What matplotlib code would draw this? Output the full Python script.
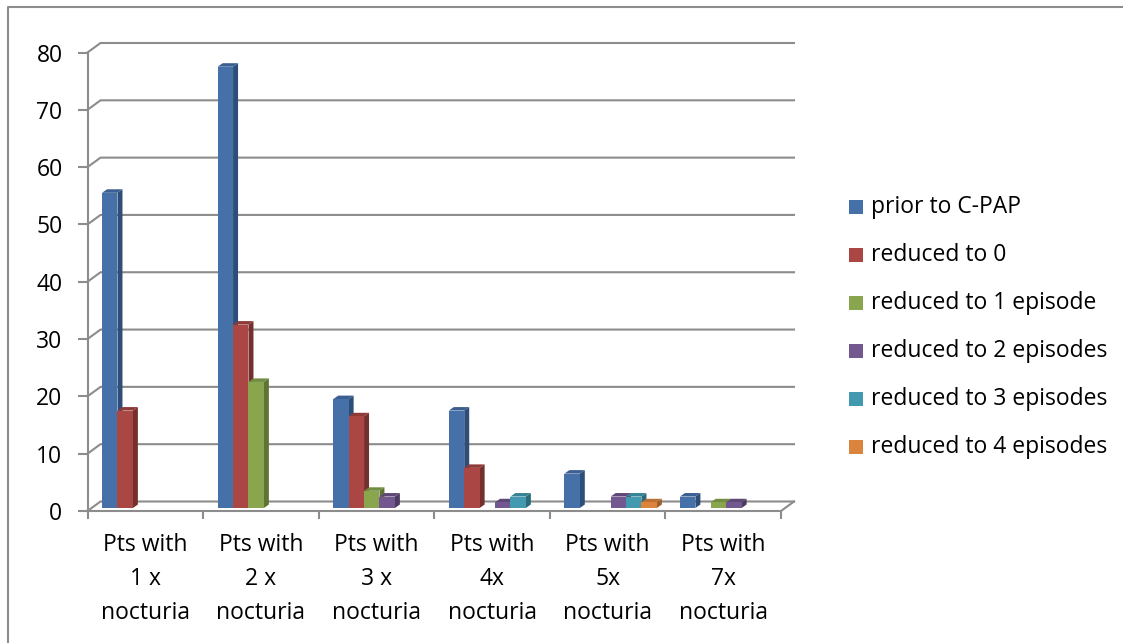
import matplotlib
matplotlib.use("Agg")
import matplotlib.pyplot as plt
from matplotlib.patches import Polygon, Rectangle
from matplotlib.lines import Line2D

plt.rcParams['font.family'] = ['Open Sans', 'DejaVu Sans']

categories = ["Pts with\n1 x\nnocturia", "Pts with\n2 x\nnocturia", "Pts with\n3 x\nnocturia",
              "Pts with\n4x\nnocturia", "Pts with\n5x\nnocturia", "Pts with\n7x\nnocturia"]
series_names = ["prior to C-PAP", "reduced to 0", "reduced to 1 episode",
                "reduced to 2 episodes", "reduced to 3 episodes", "reduced to 4 episodes"]
prior_cpap = [55, 77, 19, 17, 6, 2]
reduced_0 = [17, 32, 16, 7, 0, 0]
reduced_1 = [0, 22, 3, 0, 0, 1]
reduced_2 = [0, 0, 2, 1, 2, 1]
reduced_3 = [0, 0, 0, 2, 2, 0]
reduced_4 = [0, 0, 0, 0, 1, 0]
series_values = [prior_cpap, reduced_0, reduced_1, reduced_2, reduced_3, reduced_4]

front_colors = ["#4671A8", "#AA4643", "#89A54E", "#73578F", "#4399B0", "#DB843D"]
side_colors = ["#2D4E79", "#75302D", "#5F7434", "#4D3A62", "#2C6A7B", "#9D5E2A"]
top_colors = ["#3A5F90", "#8E3A37", "#728C41", "#5F4878", "#378396", "#BC7133"]
yticks = list(range(0, 81, 10))

FS = 16.5
W, H = 1123, 643
fig = plt.figure(figsize=(W / 100, H / 100), dpi=100)

# axes frame in pixels: front plane x 87.5..781, y 511 (0) .. 52.5 (80)
x_left, x_right, y_zero, y_top = 87.5, 781.0, 511.0, 52.5
ax = fig.add_axes([x_left / W, (H - y_zero) / H, (x_right - x_left) / W, (y_zero - y_top) / H])
ncat = len(categories)
ax.set_xlim(0, ncat)
ax.set_ylim(0, 80)
ax.patch.set_visible(False)

px_x = (x_right - x_left) / ncat          # pixels per category
px_y = (y_zero - y_top) / 80.0            # pixels per value unit

# depth of the back wall
DX, DY = 13 / px_x, 9.5 / px_y
grid_c = "#8C8C8C"
grid_lw = 1.5
for v in yticks:
    ax.add_line(Line2D([0, DX, ncat + DX], [v, v + DY, v + DY], color=grid_c, lw=grid_lw,
                       clip_on=False, zorder=1))
ax.add_line(Line2D([ncat, ncat + DX], [0, DY], color=grid_c, lw=grid_lw, clip_on=False, zorder=1))

for s in ["top", "right"]:
    ax.spines[s].set_visible(False)
for s in ["left", "bottom"]:
    ax.spines[s].set_color(grid_c)
    ax.spines[s].set_linewidth(grid_lw)
    ax.spines[s].set_zorder(1)

ax.set_yticks(yticks)
ax.set_yticklabels([str(v) for v in yticks])
ax.tick_params(axis="y", length=7, width=grid_lw, color=grid_c, pad=11, labelsize=FS)
ax.set_xticks(range(ncat + 1))
ax.set_xticklabels([])
ax.tick_params(axis="x", which="major", length=6, width=grid_lw, color=grid_c)
ax.set_xticks([i + 0.5 for i in range(ncat)], minor=True)
ax.set_xticklabels(categories, minor=True, linespacing=1.55)
ax.tick_params(axis="x", which="minor", length=0, pad=16, labelsize=FS)

# bars with a small 3D extrusion
nser = len(series_values)
gap = 0.2
bw = (1 - gap) / nser
bx, by = 3 / px_x, 3 / px_y          # bar placement inside the floor depth
sdx, sdy = 5 / px_x, 3.5 / px_y      # bar depth
for j, vals in enumerate(series_values):
    xs = [i + gap / 2 + j * bw + bx for i in range(ncat)]
    for i, v in enumerate(vals):
        if v <= 0:
            continue
        x0 = xs[i]
        ax.bar(x0, v, width=bw, bottom=by, align="edge", color=front_colors[j],
               edgecolor="none", zorder=3 + j, clip_on=False)
        side = [(x0 + bw, by), (x0 + bw, by + v), (x0 + bw + sdx, by + v + sdy), (x0 + bw + sdx, by + sdy)]
        ax.add_patch(Polygon(side, closed=True, facecolor=side_colors[j], edgecolor="none",
                             zorder=2.5 + j, clip_on=False))
        top = [(x0, by + v), (x0 + bw, by + v), (x0 + bw + sdx, by + v + sdy), (x0 + sdx, by + v + sdy)]
        ax.add_patch(Polygon(top, closed=True, facecolor=top_colors[j], edgecolor="none",
                             zorder=2.5 + j, clip_on=False))

# legend
leg_y0, leg_step = 207, 48
for j, name in enumerate(series_names):
    yc = leg_y0 + j * leg_step
    fig.add_artist(Rectangle((849 / W, (H - yc - 7) / H), 14 / W, 14 / H, transform=fig.transFigure,
                             facecolor=front_colors[j], edgecolor="none"))
    fig.text(871 / W, (H - yc) / H, name, fontsize=FS, va="center", ha="left")

# chart area border (top and left edges)
fig.add_artist(Line2D([8 / W, 8 / W, 1.0], [0.0, (H - 7) / H, (H - 7) / H], transform=fig.transFigure,
                      color=grid_c, lw=1.5))

fig.savefig("out.png", dpi=100)
